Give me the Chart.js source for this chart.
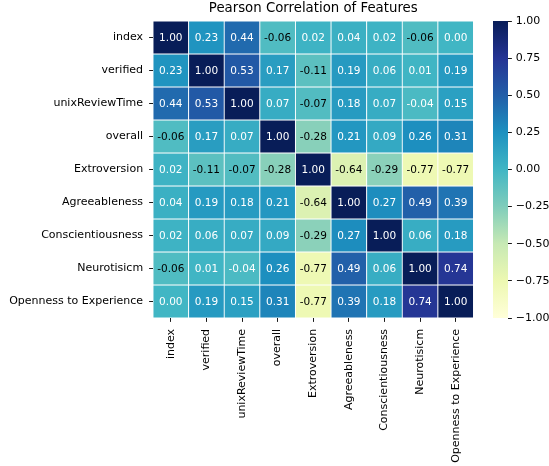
<!DOCTYPE html>
<html>
<head>
<meta charset="utf-8">
<script src="https://cdn.jsdelivr.net/npm/chart.js@4.4.1/dist/chart.umd.min.js"></script>
<style>
  html, body { margin: 0; padding: 0; background: #fff; }
  #wrap { position: relative; width: 549px; height: 466px; overflow: hidden; }
  #heat { position: absolute; left: 0; top: 0; }
  #cbar { position: absolute; left: 480px; top: 0; }
</style>
</head>
<body>
<div id="wrap">
  <canvas id="heat" width="549" height="466"></canvas>
  <canvas id="cbar" width="69" height="466"></canvas>
</div>
<script>
// Feature names (rows and columns share the same order)
const features = ['index', 'verified', 'unixReviewTime', 'overall', 'Extroversion',
  'Agreeableness', 'Conscientiousness', 'Neurotisicm', 'Openness to Experience'];

// Pearson correlation, one row per feature
const rowIndex        = [ 1.00,  0.23,  0.44, -0.06,  0.02,  0.04,  0.02, -0.06,  0.00];
const rowVerified     = [ 0.23,  1.00,  0.53,  0.17, -0.11,  0.19,  0.06,  0.01,  0.19];
const rowUnixTime     = [ 0.44,  0.53,  1.00,  0.07, -0.07,  0.18,  0.07, -0.04,  0.15];
const rowOverall      = [-0.06,  0.17,  0.07,  1.00, -0.28,  0.21,  0.09,  0.26,  0.31];
const rowExtroversion = [ 0.02, -0.11, -0.07, -0.28,  1.00, -0.64, -0.29, -0.77, -0.77];
const rowAgreeable    = [ 0.04,  0.19,  0.18,  0.21, -0.64,  1.00,  0.27,  0.49,  0.39];
const rowConscient    = [ 0.02,  0.06,  0.07,  0.09, -0.29,  0.27,  1.00,  0.06,  0.18];
const rowNeuroticism  = [-0.06,  0.01, -0.04,  0.26, -0.77,  0.49,  0.06,  1.00,  0.74];
const rowOpenness     = [ 0.00,  0.19,  0.15,  0.31, -0.77,  0.39,  0.18,  0.74,  1.00];

const corrRows = [rowIndex, rowVerified, rowUnixTime, rowOverall, rowExtroversion,
  rowAgreeable, rowConscient, rowNeuroticism, rowOpenness];

// Colour bar ticks
const cbarTicks = [-1.00, -0.75, -0.50, -0.25, 0.00, 0.25, 0.50, 0.75, 1.00];

// YlGnBu colour map anchors, evenly spaced over [-1, 1]
const ylGnBu = ['#ffffd9', '#edf8b1', '#c7e9b4', '#7fcdbb', '#41b6c4',
  '#1d91c0', '#225ea8', '#253494', '#081d58'];

function hexToRgb(h) {
  return [parseInt(h.slice(1, 3), 16), parseInt(h.slice(3, 5), 16), parseInt(h.slice(5, 7), 16)];
}
const anchors = ylGnBu.map(hexToRgb);

function cmap(v) {
  let t = (v + 1) / 2;
  t = Math.min(1, Math.max(0, t));
  const pos = t * (anchors.length - 1);
  const i = Math.min(anchors.length - 2, Math.floor(pos));
  const f = pos - i;
  const a = anchors[i], b = anchors[i + 1];
  return [0, 1, 2].map(k => a[k] + (b[k] - a[k]) * f);
}
function rgbStr(c) {
  return 'rgb(' + c.map(x => Math.round(x)).join(',') + ')';
}
function luminance(c) {
  const lin = c.map(x => {
    const s = x / 255;
    return s <= 0.03928 ? s / 12.92 : Math.pow((s + 0.055) / 1.055, 2.4);
  });
  return 0.2126 * lin[0] + 0.7152 * lin[1] + 0.0722 * lin[2];
}

const TICK_FONT = 11;
const TICK_LEN = 3.9;

Chart.defaults.font.family = "'DejaVu Sans', sans-serif";
Chart.defaults.font.size = TICK_FONT;
Chart.defaults.color = '#000';

// One floating-bar dataset per row; each bar spans [row, row + 1] on a reversed axis
const datasets = corrRows.map((row, r) => ({
  label: features[r],
  data: row.map(() => [r, r + 1]),
  corr: row,
  backgroundColor: row.map(v => rgbStr(cmap(v))),
  borderColor: '#ffffff',
  borderWidth: 0.8,
  borderSkipped: false,
  grouped: false,
  barPercentage: 1,
  categoryPercentage: 1
}));

// Writes each cell's value in its centre, dark or light depending on the fill
const cellLabels = {
  id: 'cellLabels',
  afterDatasetsDraw(chart) {
    const ctx = chart.ctx;
    ctx.save();
    ctx.font = "10.5px 'DejaVu Sans', sans-serif";
    ctx.textAlign = 'center';
    ctx.textBaseline = 'middle';
    chart.data.datasets.forEach((ds, di) => {
      const meta = chart.getDatasetMeta(di);
      meta.data.forEach((el, ci) => {
        const v = ds.corr[ci];
        const c = cmap(v);
        ctx.fillStyle = luminance(c) > 0.408 ? '#000' : '#fff';
        const p = el.getCenterPoint();
        ctx.fillText(v.toFixed(2), p.x, p.y + 0.5);
      });
    });
    ctx.restore();
  }
};

new Chart(document.getElementById('heat'), {
  type: 'bar',
  data: { labels: features, datasets },
  plugins: [cellLabels],
  options: {
    responsive: false,
    animation: false,
    events: [],
    layout: { padding: { left: 0, right: 75.5, top: 0, bottom: 0 } },
    plugins: {
      legend: { display: false },
      tooltip: { enabled: false },
      title: {
        display: true,
        text: 'Pearson Correlation of Features',
        fullSize: false,
        color: '#000',
        font: { size: 13.3, weight: 'normal', lineHeight: 1.2 },
        padding: { top: 1, bottom: 4 }
      }
    },
    scales: {
      x: {
        type: 'category',
        border: { display: false },
        grid: {
          offset: false, drawOnChartArea: false, drawTicks: true,
          tickLength: TICK_LEN, tickWidth: 0.9, tickColor: '#000'
        },
        ticks: { autoSkip: false, minRotation: 90, maxRotation: 90, padding: 7 },
        afterFit(scale) { scale.height = 148; }
      },
      y: {
        type: 'linear',
        min: 0, max: 9, reverse: true,
        border: { display: false },
        grid: {
          drawOnChartArea: false, drawTicks: true,
          tickLength: TICK_LEN, tickWidth: 0.9, tickColor: '#000'
        },
        ticks: {
          autoSkip: false, padding: 6,
          callback: (value, index) => features[index]
        },
        afterBuildTicks(scale) {
          scale.ticks = features.map((_, i) => ({ value: i + 0.5 }));
        },
        afterFit(scale) {
          scale.width = 153;
          scale.paddingTop = 0;
          scale.paddingBottom = 0;
        }
      }
    }
  }
});

// Colour bar: a single floating bar from -1 to 1 filled with the colour map
new Chart(document.getElementById('cbar'), {
  type: 'bar',
  data: {
    labels: [''],
    datasets: [{
      data: [[-1, 1]],
      borderWidth: 0,
      borderSkipped: false,
      barPercentage: 1,
      categoryPercentage: 1,
      backgroundColor(context) {
        const area = context.chart.chartArea;
        if (!area) return ylGnBu[4];
        const g = context.chart.ctx.createLinearGradient(0, area.bottom, 0, area.top);
        ylGnBu.forEach((c, i) => g.addColorStop(i / (ylGnBu.length - 1), c));
        return g;
      }
    }]
  },
  options: {
    responsive: false,
    animation: false,
    events: [],
    layout: { padding: { left: 13, right: 0, top: 21, bottom: 148 } },
    plugins: { legend: { display: false }, tooltip: { enabled: false } },
    scales: {
      x: { display: false },
      y: {
        type: 'linear',
        position: 'right',
        min: -1, max: 1,
        border: { display: false },
        grid: {
          drawOnChartArea: false, drawTicks: true,
          tickLength: TICK_LEN, tickWidth: 0.9, tickColor: '#000'
        },
        ticks: {
          padding: 3.8,
          callback: (value) => {
            const s = Math.abs(value).toFixed(2);
            return value < 0 ? '\u2212' + s : s;
          }
        },
        afterBuildTicks(scale) {
          scale.ticks = cbarTicks.map(v => ({ value: v }));
        },
        afterFit(scale) {
          scale.width = 41;
          scale.paddingTop = 0;
          scale.paddingBottom = 0;
        }
      }
    }
  }
});
</script>
</body>
</html>
